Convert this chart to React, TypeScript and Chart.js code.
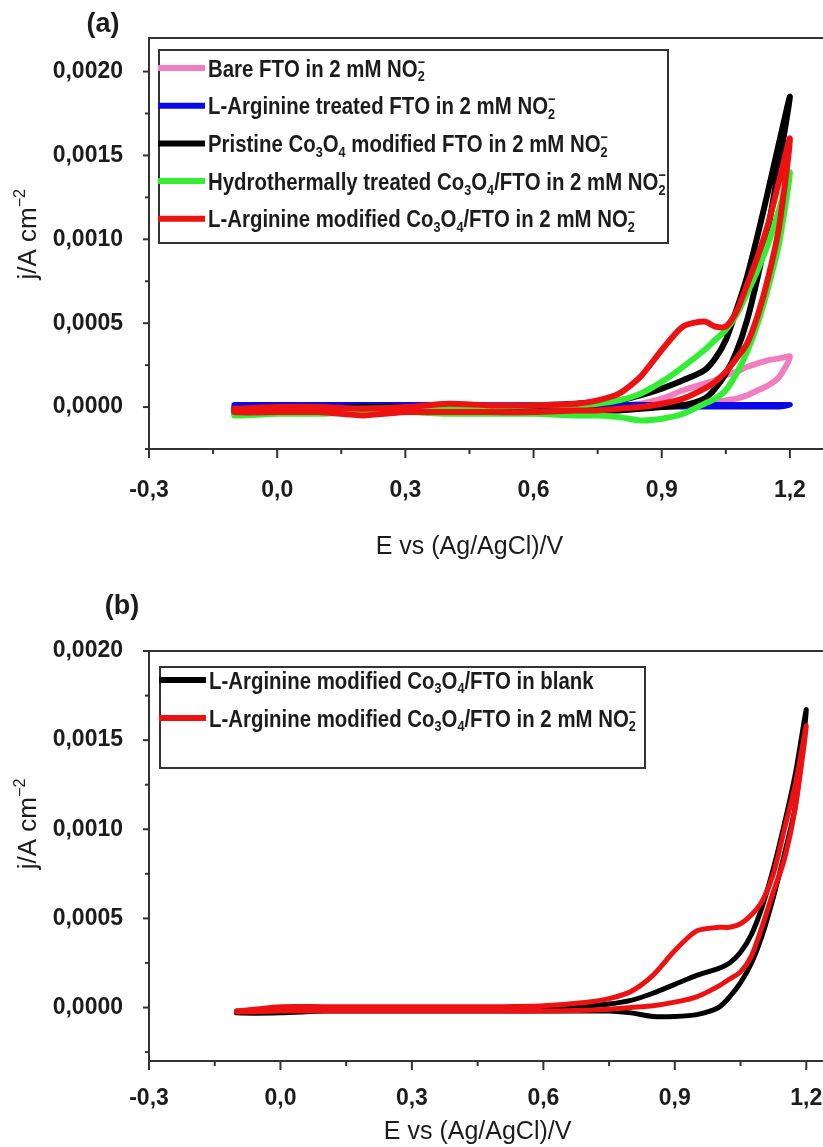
import React, { useEffect, useRef } from "react";
import { Chart, registerables } from "chart.js";

Chart.register(...registerables);

// ---------------- data ----------------
// potential grid (V vs Ag/AgCl) of the anodic sweep; the cathodic sweep runs back over it
const potentialA = [-0.1, 0.0, 0.1, 0.2, 0.3, 0.4, 0.5, 0.6, 0.7, 0.75, 0.8, 0.85, 0.9, 0.95, 1.0, 1.025, 1.05, 1.075, 1.1, 1.125, 1.15, 1.175, 1.2];
const potentialB = [-0.1, 0.0, 0.1, 0.2, 0.3, 0.4, 0.5, 0.6, 0.7, 0.75, 0.8, 0.85, 0.9, 0.95, 1.0, 1.025, 1.05, 1.075, 1.1, 1.125, 1.15, 1.175, 1.2];

// panel (a) current densities, A cm^-2
const bareFwd = [0, 0, 0, 0, 0, 0, 0, 0, 0, 0, 0.00001, 0.00002, 0.00005, 0.0001, 0.00014, 0.00016, 0.00019, 0.00021, 0.00024, 0.00026, 0.00028, 0.00029, 0.0003];
const bareRev = [0, 0, 0, 0, 0, 0, 0, 0, 0, 0, 0, 0, 0.00001, 0.00001, 0.00002, 0.00003, 0.00004, 0.00005, 0.00007, 0.0001, 0.00013, 0.00018, 0.0003];
const argFtoFwd = [0.000012, 0.000012, 0.000013, 0.000012, 0.000012, 0.000012, 0.000011, 0.000012, 0.000012, 0.000012, 0.000012, 0.000012, 0.000012, 0.000012, 0.000012, 0.000012, 0.000012, 0.000012, 0.000012, 0.000012, 0.000012, 0.000012, 0.000012];
const argFtoRev = [0.000004, 0.000004, 0.000004, 0.000004, 0.000004, 0.000004, 0.000004, 0.000004, 0.000004, 0.000004, 0.000004, 0.000004, 0.000004, 0.000004, 0.000004, 0.000004, 0.000004, 0.000004, 0.000004, 0.000004, 0.000004, 0.000004, 0.000012];
const pristineFwd = [-0.00001, -0.00001, -0.00001, 0, 0, 0, 0, 0.00001, 0.00002, 0.00003, 0.00004, 0.00007, 0.00011, 0.00016, 0.00022, 0.00029, 0.0004, 0.00058, 0.00078, 0.00103, 0.0013, 0.00158, 0.00185];
const pristineRev = [-0.00003, -0.00003, -0.00003, -0.00003, -0.00002, -0.00002, -0.00002, -0.00002, -0.00002, -0.00002, -0.00002, -0.00001, 0, 0.00001, 0.00005, 0.00011, 0.0002, 0.00033, 0.00052, 0.00078, 0.00108, 0.00145, 0.00185];
const hydroFwd = [-0.00003, -0.00002, -0.00002, -0.00001, -0.00001, 0, 0, 0.00001, 0.00001, 0.00002, 0.00004, 0.00008, 0.00015, 0.00024, 0.00034, 0.0004, 0.00046, 0.00055, 0.00068, 0.00082, 0.00098, 0.00118, 0.0014];
const hydroRev = [-0.00005, -0.00004, -0.00004, -0.00003, -0.00003, -0.00004, -0.00004, -0.00004, -0.00005, -0.00005, -0.00006, -0.00008, -0.00007, -0.00004, 0.00002, 0.00005, 0.0001, 0.0002, 0.00033, 0.0005, 0.00072, 0.00098, 0.0014];
const argCoFwd = [-0.00001, 0, 0, -0.00001, 0, 0.00002, 0.00001, 0.00001, 0.00002, 0.00004, 0.00008, 0.00018, 0.00034, 0.00048, 0.00051, 0.00048, 0.00048, 0.00057, 0.00073, 0.0009, 0.0011, 0.00135, 0.0016];
const argCoRev = [-0.00003, -0.00003, -0.00003, -0.00005, -0.00003, -0.00003, -0.00003, -0.00003, -0.00002, -0.00002, -0.00001, 0, 0.00002, 0.00005, 0.00011, 0.00015, 0.00021, 0.00029, 0.00038, 0.00055, 0.00078, 0.00108, 0.0016];

// panel (b) current densities, A cm^-2
const blankFwd = [-0.00002, -0.00002, -0.00001, -0.00001, -0.00001, 0, 0, 0, 0.00001, 0.00002, 0.00004, 0.00008, 0.00013, 0.00018, 0.00022, 0.00025, 0.00031, 0.00041, 0.00057, 0.00078, 0.00103, 0.00131, 0.00167];
const blankRev = [-0.00003, -0.00003, -0.00002, -0.00002, -0.00002, -0.00002, -0.00002, -0.00002, -0.00002, -0.00002, -0.00003, -0.00005, -0.00005, -0.00004, 0, 0.00006, 0.00014, 0.00025, 0.00041, 0.00062, 0.00086, 0.00113, 0.00167];
const nitriteFwd = [-0.00002, 0.000005, 0.000005, 0.000005, 0.000005, 0.000005, 0.000005, 0.00001, 0.00003, 0.00005, 0.00009, 0.00018, 0.00032, 0.00043, 0.00045, 0.00045, 0.00047, 0.00052, 0.0006, 0.00075, 0.001, 0.00125, 0.00158];
const nitriteRev = [-0.000025, -0.00002, -0.00002, -0.00002, -0.00002, -0.00002, -0.00002, -0.00002, -0.000015, -0.00001, 0, 0.00001, 0.00003, 0.00006, 0.00012, 0.00016, 0.0002, 0.00029, 0.00046, 0.00065, 0.00083, 0.00112, 0.00158];

const labelsA = [
  "Bare FTO in 2 mM NO₂⁻",
  "L-Arginine treated FTO in 2 mM NO₂⁻",
  "Pristine Co₃O₄ modified FTO in 2 mM NO₂⁻",
  "Hydrothermally treated Co₃O₄/FTO in 2 mM NO₂⁻",
  "L-Arginine modified Co₃O₄/FTO in 2 mM NO₂⁻",
];
const labelsB = [
  "L-Arginine modified Co₃O₄/FTO in blank",
  "L-Arginine modified Co₃O₄/FTO in 2 mM NO₂⁻",
];

const xMajorTicks = [-0.3, 0.0, 0.3, 0.6, 0.9, 1.2];
const xMinorTicks = [-0.15, 0.15, 0.45, 0.75, 1.05, 1.35];
const yMajorTicks = [0, 0.0005, 0.001, 0.0015, 0.002];
const yMinorTicks = [-0.00025, 0.00025, 0.00075, 0.00125, 0.00175];

const xTitle = "E vs (Ag/AgCl)/V";
const yTitle = "j/A cm⁻²";

// ---------------- styling ----------------
const TICK_FONT = "'Liberation Sans', Arial, sans-serif";
const AXIS_COLOR = "#333333";
const TEXT_COLOR = "#1c1c1c";

const SUB: Record<string, string> = { "₀": "0", "₁": "1", "₂": "2", "₃": "3", "₄": "4", "₅": "5", "₆": "6", "₇": "7", "₈": "8", "₉": "9" };
const SUP: Record<string, string> = { "⁻": "−", "²": "2", "³": "3" };

// draws text with unicode sub/superscripts as small shifted glyphs; hScale condenses horizontally
function drawRich(ctx: CanvasRenderingContext2D, text: string, x: number, baseY: number, size: number, weight: string, family: string, hScale = 1, draw = true): number {
  ctx.save();
  ctx.translate(x, 0);
  ctx.scale(hScale, 1);
  let cx = 0;
  let lastSubX: number | null = null;
  const small = size * 0.62;
  ctx.textAlign = "left";
  ctx.textBaseline = "alphabetic";
  for (const ch of Array.from(text)) {
    if (SUB[ch]) {
      ctx.font = `${weight} ${small}px ${family}`;
      const t = SUB[ch];
      if (draw) ctx.fillText(t, cx, baseY + size * 0.2);
      lastSubX = cx;
      cx += ctx.measureText(t).width;
    } else if (SUP[ch]) {
      ctx.font = `${weight} ${small}px ${family}`;
      const t = SUP[ch];
      const sx = lastSubX !== null ? lastSubX : cx;
      if (draw) ctx.fillText(t, sx, baseY - size * 0.42);
      const w = ctx.measureText(t).width;
      cx = lastSubX !== null ? Math.max(cx, sx + w) : cx + w;
      lastSubX = null;
    } else {
      ctx.font = `${weight} ${size}px ${family}`;
      if (draw) ctx.fillText(ch, cx, baseY);
      cx += ctx.measureText(ch).width;
      lastSubX = null;
    }
  }
  ctx.restore();
  return cx * hScale;
}

const fmt = (v: number, d: number) => (Math.abs(v) < 1e-12 ? 0 : v).toFixed(d).replace(".", ",");

function loop(E: number[], fwd: number[], rev: number[]) {
  const pts = E.map((e, i) => ({ x: e, y: fwd[i] }));
  for (let i = E.length - 2; i >= 0; i--) pts.push({ x: E[i], y: rev[i] });
  pts.push({ x: E[0], y: fwd[0] });
  return pts;
}

const decorPlugin = {
  id: "decor",
  afterDraw(chart: any, _args: any, o: any) {
    const { ctx, chartArea: a, scales } = chart;
    const xs = scales.x;
    const ys = scales.y;
    ctx.save();
    ctx.strokeStyle = AXIS_COLOR;
    ctx.lineWidth = 2;
    ctx.beginPath();
    ctx.moveTo(a.left - 1, a.top);
    ctx.lineTo(a.right, a.top);
    ctx.lineTo(a.right, a.bottom);
    ctx.stroke();
    // tick marks
    const tick = (x1: number, y1: number, x2: number, y2: number) => {
      ctx.beginPath();
      ctx.moveTo(x1, y1);
      ctx.lineTo(x2, y2);
      ctx.stroke();
    };
    xMajorTicks.forEach((v) => { const p = xs.getPixelForValue(v); tick(p, a.bottom, p, a.bottom + 9); });
    xMinorTicks.forEach((v) => { const p = xs.getPixelForValue(v); if (p <= a.right) tick(p, a.bottom, p, a.bottom + 5); });
    yMajorTicks.forEach((v) => { const p = ys.getPixelForValue(v); tick(a.left, p, a.left - 6, p); });
    yMinorTicks.forEach((v) => { const p = ys.getPixelForValue(v); if (p <= a.bottom && p >= a.top) tick(a.left, p, a.left - 4, p); });

    // axis titles
    ctx.fillStyle = TEXT_COLOR;
    const tSize = 25;
    const w = drawRich(ctx, xTitle, 0, 0, tSize, "normal", TICK_FONT, 1, false);
    drawRich(ctx, xTitle, xs.getPixelForValue(0.45) - w / 2, a.bottom + o.xTitleOffset + tSize * 0.36, tSize, "normal", TICK_FONT);
    ctx.save();
    ctx.translate(o.yTitleX, ys.getPixelForValue(0.00103));
    ctx.rotate(-Math.PI / 2);
    const wy = drawRich(ctx, yTitle, 0, 0, 26, "normal", TICK_FONT, 1, false);
    drawRich(ctx, yTitle, -wy / 2, 26 * 0.36, 26, "normal", TICK_FONT);
    ctx.restore();

    // panel label
    ctx.font = `bold 27px ${TICK_FONT}`;
    ctx.textAlign = "center";
    ctx.textBaseline = "middle";
    ctx.fillText(o.panel, o.panelX, o.panelY);

    // legend
    const L = o.legend;
    ctx.fillStyle = "#ffffff";
    ctx.fillRect(L.x, L.y, L.w, L.h);
    ctx.strokeStyle = AXIS_COLOR;
    ctx.lineWidth = 2;
    ctx.strokeRect(L.x, L.y, L.w, L.h);
    chart.data.datasets.forEach((ds: any, i: number) => {
      const yc = L.firstY + i * L.gap;
      ctx.strokeStyle = ds.borderColor;
      ctx.lineWidth = 6;
      ctx.lineCap = "butt";
      ctx.beginPath();
      ctx.moveTo(L.x - 1, yc);
      ctx.lineTo(L.x + 46, yc);
      ctx.stroke();
      ctx.fillStyle = TEXT_COLOR;
      drawRich(ctx, ds.label, L.x + 49, yc + L.size * 0.36, L.size, "bold", TICK_FONT, 0.85);
    });
    ctx.restore();
  },
};

interface SeriesSpec { label: string; color: string; fwd: number[]; rev: number[]; order: number }

function makeConfig(E: number[], series: SeriesSpec[], geo: any): any {
  return {
    type: "scatter",
    data: {
      datasets: series.map((s) => ({
        label: s.label,
        data: loop(E, s.fwd, s.rev),
        borderColor: s.color,
        backgroundColor: s.color,
        borderWidth: geo.lineWidth,
        showLine: true,
        pointRadius: 0,
        pointHoverRadius: 0,
        tension: 0.25,
        borderJoinStyle: "round",
        borderCapStyle: "round",
        order: s.order,
      })),
    },
    options: {
      responsive: false,
      animation: false,
      events: [],
      devicePixelRatio: 1,
      layout: { padding: { left: 0, top: geo.top, right: geo.right, bottom: 0 } },
      plugins: {
        legend: { display: false },
        tooltip: { enabled: false },
        decor: geo.decor,
      },
      scales: {
        x: {
          type: "linear",
          min: -0.3,
          max: 1.35,
          grid: { display: false },
          border: { display: true, color: AXIS_COLOR, width: 2 },
          ticks: {
            autoSkip: false,
            maxRotation: 0,
            padding: geo.xTickPad,
            color: TEXT_COLOR,
            font: { family: TICK_FONT, size: 23, weight: "bold" },
            callback: (v: any) => fmt(Number(v), 1),
          },
          afterBuildTicks: (s: any) => { s.ticks = xMajorTicks.map((v) => ({ value: v })); },
          afterFit: (s: any) => { s.height = geo.xAxisHeight; },
        },
        y: {
          type: "linear",
          min: geo.yMin,
          max: geo.yMax,
          grid: { display: false },
          border: { display: true, color: AXIS_COLOR, width: 2 },
          ticks: {
            autoSkip: false,
            padding: 18,
            color: TEXT_COLOR,
            font: { family: TICK_FONT, size: 23, weight: "bold" },
            callback: (v: any) => fmt(Number(v), 4),
          },
          afterBuildTicks: (s: any) => { s.ticks = yMajorTicks.map((v) => ({ value: v })); },
          afterFit: (s: any) => { s.width = 149; },
        },
      },
    },
    plugins: [decorPlugin],
  };
}

const seriesA: SeriesSpec[] = [
  { label: labelsA[0], color: "#F07EC0", fwd: bareFwd, rev: bareRev, order: 4 },
  { label: labelsA[1], color: "#0808E8", fwd: argFtoFwd, rev: argFtoRev, order: 3 },
  { label: labelsA[2], color: "#000000", fwd: pristineFwd, rev: pristineRev, order: 2 },
  { label: labelsA[3], color: "#33EE33", fwd: hydroFwd, rev: hydroRev, order: 1 },
  { label: labelsA[4], color: "#EE1111", fwd: argCoFwd, rev: argCoRev, order: 0 },
];
const seriesB: SeriesSpec[] = [
  { label: labelsB[0], color: "#000000", fwd: blankFwd, rev: blankRev, order: 1 },
  { label: labelsB[1], color: "#EE1111", fwd: nitriteFwd, rev: nitriteRev, order: 0 },
];

const geoA = {
  lineWidth: 6,
  top: 38,
  right: 26,
  xAxisHeight: 126,
  xTickPad: 20,
  yMin: -0.00025,
  yMax: 0.0022,
  decor: {
    panel: "(a)", panelX: 103, panelY: 25, xTitleOffset: 96, yTitleX: 27,
    legend: { x: 159, y: 50, w: 509, h: 193, firstY: 68, gap: 37.7, size: 24 },
  },
};
const geoB = {
  lineWidth: 5,
  top: 71,
  right: 18,
  xAxisHeight: 86,
  xTickPad: 16,
  yMin: -0.0003,
  yMax: 0.002,
  decor: {
    panel: "(b)", panelX: 122, panelY: 27, xTitleOffset: 69, yTitleX: 27,
    legend: { x: 160, y: 87, w: 485, h: 101, firstY: 100, gap: 38, size: 24 },
  },
};

export default function App() {
  const refA = useRef<HTMLCanvasElement>(null);
  const refB = useRef<HTMLCanvasElement>(null);
  useEffect(() => {
    const a = new Chart(refA.current as HTMLCanvasElement, makeConfig(potentialA, seriesA, geoA));
    const b = new Chart(refB.current as HTMLCanvasElement, makeConfig(potentialB, seriesB, geoB));
    return () => {
      a.destroy();
      b.destroy();
    };
  }, []);
  return (
    <div style={{ position: "absolute", left: 0, top: 0, width: 823, height: 1147, overflow: "hidden", background: "#ffffff" }}>
      <canvas ref={refA} width={880} height={575} style={{ position: "absolute", left: 0, top: 0, width: 880, height: 575 }} />
      <canvas ref={refB} width={890} height={567} style={{ position: "absolute", left: 0, top: 580, width: 890, height: 567 }} />
    </div>
  );
}
